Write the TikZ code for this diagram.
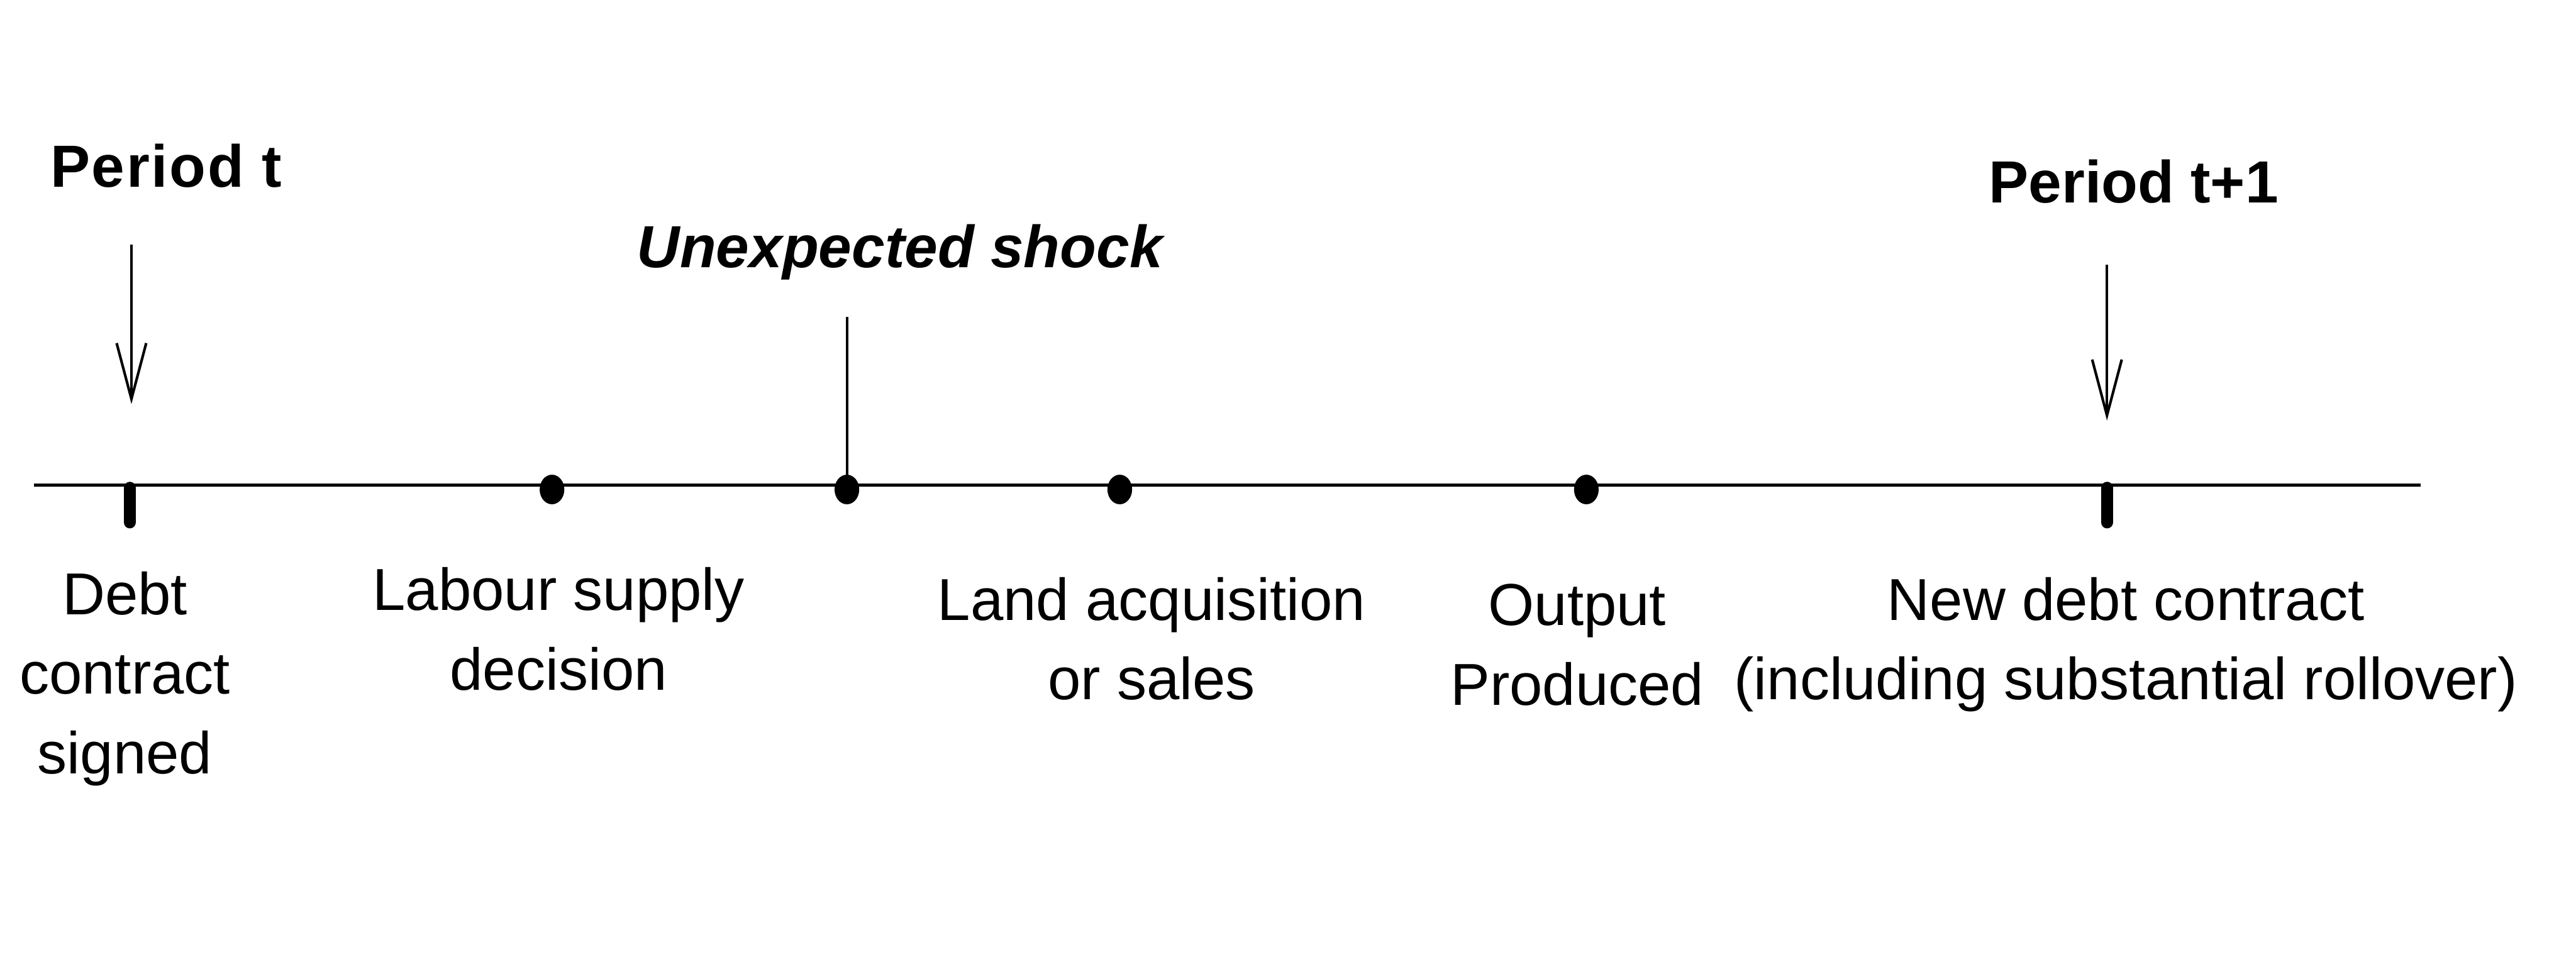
\documentclass[tikz,border=0pt]{standalone}
\usepackage{fontspec}
\setmainfont{Liberation Sans}
\usetikzlibrary{arrows.meta,shapes.geometric}
\newcommand\tlines[1]{\begin{tabular}[t]{@{}c@{}}#1\end{tabular}}
\begin{document}
\begin{tikzpicture}[x=0.01cm,y=-0.01cm,
  lbl/.style={inner sep=0pt, anchor=base, font=\fontsize{10.25}{13.8}\selectfont},
  ttl/.style={inner sep=0pt, anchor=base west, font=\fontsize{10.3}{12}\selectfont\bfseries},
  axisline/.style={line width=0.55pt},
  pointer/.style={line width=0.45pt, -{Straight Barb[length=3.4mm,width=1.8mm,line width=0.45pt]}},
  tickmark/.style={line width=2.1pt, line cap=round},
  evdot/.style={ellipse, fill=black, inner sep=0pt, minimum width=0.15cm, minimum height=0.18cm}
]
\useasboundingbox (0,0) rectangle (1568,596);

% timeline
\coordinate (start) at (20.6,295.5);
\coordinate (end) at (1473.5,295.5);
\draw[axisline] (start) -- (end);

% ticks
\coordinate (tka) at (79,297);
\coordinate (tkb) at (79,318);
\coordinate (tkc) at (1282.5,297);
\coordinate (tkd) at (1282.5,318);
\draw[tickmark] (tka) -- (tkb);
\draw[tickmark] (tkc) -- (tkd);

% shock line
\coordinate (shocktop) at (515.5,193);
\coordinate (shockbase) at (515.5,297);
\draw[line width=0.45pt] (shocktop) -- (shockbase);

% dots
\node[evdot] (d1) at (336,298) {};
\node[evdot] (d2) at (515.5,298) {};
\node[evdot] (d3) at (681.6,298) {};
\node[evdot] (d4) at (965.6,298) {};

% period arrows
\coordinate (a0s) at (80,149);
\coordinate (a0e) at (80,246);
\coordinate (a1s) at (1282.5,161);
\coordinate (a1e) at (1282.5,256);
\draw[pointer] (a0s) -- (a0e);
\draw[pointer] (a1s) -- (a1e);

% titles
\node[ttl] (pt) at (30,114) {\addfontfeature{LetterSpace=2.8}Period t};
\node[ttl] (pt1) at (1210,123.4) {Period t+1};
\node[ttl, font=\fontsize{10.3}{12}\selectfont\bfseries\itshape] (shock) at (387,163) {Unexpected shock};

% labels
\node[lbl] (l1) at (76,374) {\tlines{Debt\\contract\\signed}};
\node[lbl] (l2) at (340,371.6) {\tlines{Labour supply\\decision}};
\node[lbl] (l3) at (701,377.5) {\tlines{Land acquisition\\or sales}};
\node[lbl] (l4) at (960,380.6) {\tlines{Output\\Produced}};
\node[lbl] (l5) at (1294,377.5) {\tlines{New debt contract\\(including substantial rollover)}};
\end{tikzpicture}
\end{document}
